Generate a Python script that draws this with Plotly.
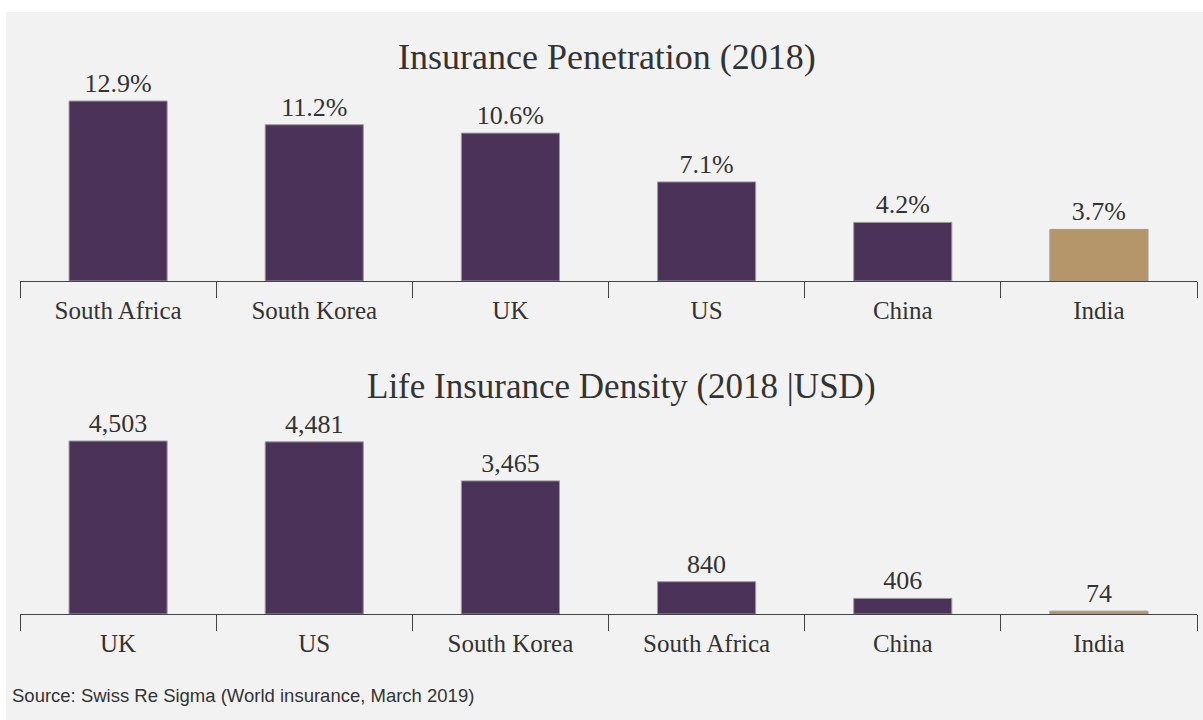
import plotly.graph_objects as go

# Insurance penetration (premiums as % of GDP), 2018
pen_countries = ["South Africa", "South Korea", "UK", "US", "China", "India"]
pen_values = [12.9, 11.2, 10.6, 7.1, 4.2, 3.7]
pen_labels = ["12.9%", "11.2%", "10.6%", "7.1%", "4.2%", "3.7%"]

# Life insurance density (premium per capita, USD), 2018
den_countries = ["UK", "US", "South Korea", "South Africa", "China", "India"]
den_values = [4503, 4481, 3465, 840, 406, 74]
den_labels = ["4,503", "4,481", "3,465", "840", "406", "74"]

PURPLE = "#4a3258"
GOLD = "#b5956a"
TEXT = "#333333"
BG = "#f2f2f2"
SERIF = "Liberation Serif, Times New Roman, serif"

W, H = 1203, 720
ML, MR = 20, 6
PW = W - ML - MR


def colors(names):
    return [GOLD if n == "India" else PURPLE for n in names]


def px_x(px):
    return (px - ML) / PW


def px_y(py):
    return 1 - py / H


fig = go.Figure()

fig.add_trace(go.Bar(
    x=pen_countries, y=pen_values, text=pen_labels,
    textposition="outside", cliponaxis=False, width=0.5,
    marker=dict(color=colors(pen_countries), line=dict(color="#9a9a9a", width=1)),
    textfont=dict(family=SERIF, size=26, color=TEXT),
    xaxis="x", yaxis="y", hoverinfo="skip",
))

fig.add_trace(go.Bar(
    x=den_countries, y=den_values, text=den_labels,
    textposition="outside", cliponaxis=False, width=0.5,
    marker=dict(color=colors(den_countries), line=dict(color="#9a9a9a", width=1)),
    textfont=dict(family=SERIF, size=26, color=TEXT),
    xaxis="x2", yaxis="y2", hoverinfo="skip",
))

xaxis_style = dict(
    type="category", showline=True, linecolor="#444444", linewidth=1,
    ticks="outside", tickson="boundaries", ticklen=16, tickcolor="#444444",
    tickwidth=1, showgrid=False, zeroline=False, ticklabelstandoff=7,
    tickfont=dict(family=SERIF, size=25, color=TEXT), fixedrange=True,
)
yaxis_style = dict(visible=False, showgrid=False, zeroline=False, fixedrange=True)

fig.update_layout(
    width=W, height=H,
    margin=dict(l=ML, r=MR, t=0, b=0),
    paper_bgcolor=BG, plot_bgcolor=BG,
    showlegend=False,
    xaxis=dict(domain=[0, 1], anchor="y", **xaxis_style),
    yaxis=dict(domain=[px_y(281), px_y(90)], range=[0, 13.69], **yaxis_style),
    xaxis2=dict(domain=[0, 1], anchor="y2", **xaxis_style),
    yaxis2=dict(domain=[px_y(614), px_y(420)], range=[0, 5050], **yaxis_style),
    shapes=[
        # white frame strips along the top and left edges
        dict(type="rect", xref="paper", yref="paper",
             x0=px_x(0), x1=px_x(W), y0=px_y(12), y1=px_y(0),
             fillcolor="white", line=dict(width=0), layer="below"),
        dict(type="rect", xref="paper", yref="paper",
             x0=px_x(0), x1=px_x(6), y0=px_y(H), y1=px_y(0),
             fillcolor="white", line=dict(width=0), layer="below"),
    ],
    annotations=[
        dict(text="Insurance Penetration (2018)", xref="paper", yref="paper",
             x=px_x(607), y=px_y(57), xanchor="center", yanchor="middle",
             showarrow=False, font=dict(family=SERIF, size=36, color=TEXT)),
        dict(text="Life Insurance Density (2018 |USD)", xref="paper", yref="paper",
             x=px_x(621), y=px_y(386), xanchor="center", yanchor="middle",
             showarrow=False, font=dict(family=SERIF, size=35, color=TEXT)),
        dict(text="Source: Swiss Re Sigma (World insurance, March 2019)",
             xref="paper", yref="paper", x=px_x(10), y=px_y(695),
             xanchor="left", yanchor="middle", showarrow=False,
             font=dict(family="Liberation Sans, Arial, sans-serif", size=18.5, color=TEXT)),
    ],
)

fig.write_html("out.html")
